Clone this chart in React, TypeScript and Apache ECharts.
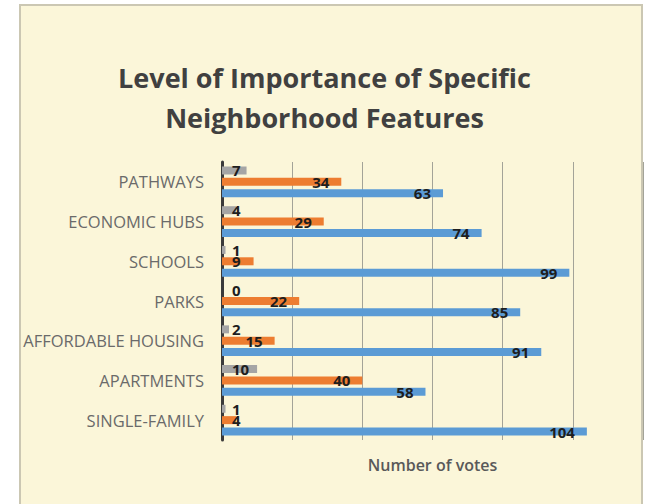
import React, { useEffect, useRef } from "react";
import * as echarts from "echarts";

const categories = [
  "PATHWAYS",
  "ECONOMIC HUBS",
  "SCHOOLS",
  "PARKS",
  "AFFORDABLE HOUSING",
  "APARTMENTS",
  "SINGLE-FAMILY",
];
const grayValues = [7, 4, 1, 0, 2, 10, 1];
const orangeValues = [34, 29, 9, 22, 15, 40, 4];
const blueValues = [63, 74, 99, 85, 91, 58, 104];
const seriesNames = ["Not important", "Somewhat important", "Very important"];
const titleText = "Level of Importance of Specific\nNeighborhood Features";
const axisName = "Number of votes";

const FONT = "'Open Sans', Lato, sans-serif";

function labelled(values: number[]) {
  return values.map((v) => ({
    value: v,
    label:
      v >= 12
        ? { position: "insideRight", distance: 12 }
        : { position: "insideLeft", distance: 10 },
  }));
}

export default function App() {
  const ref = useRef<HTMLDivElement>(null);
  useEffect(() => {
    document.body.style.margin = "0";
    if (!ref.current) return;
    const chart = echarts.init(ref.current, undefined, { renderer: "svg" });
    const labelBase = {
      show: true,
      color: "#1e1e1e",
      fontWeight: "bold",
      fontSize: 15,
      fontFamily: FONT,
    };
    const barCommon = { type: "bar", barWidth: 8, barGap: "42%" };
    chart.setOption({
      animation: false,
      backgroundColor: "transparent",
      title: {
        text: titleText,
        left: "center",
        top: 52,
        textStyle: {
          fontFamily: FONT,
          fontSize: 27,
          fontWeight: "bold",
          color: "#404040",
          lineHeight: 40,
        },
      },
      grid: { left: 222, right: 6, top: 162, bottom: 64 },
      xAxis: {
        type: "value",
        min: 0,
        max: 120,
        interval: 20,
        axisLabel: { show: false },
        axisLine: { show: false },
        axisTick: { show: false },
        splitLine: { lineStyle: { color: "#a3a398", width: 1 } },
        name: axisName,
        nameLocation: "middle",
        nameGap: 17,
        nameTextStyle: {
          fontFamily: FONT,
          fontSize: 16,
          fontWeight: 600,
          color: "#595959",
        },
      },
      yAxis: {
        type: "category",
        inverse: true,
        data: categories,
        axisLine: { show: true, lineStyle: { color: "#3a3a3a", width: 3 } },
        axisTick: { show: false },
        axisLabel: {
          color: "#6a6a6a",
          fontFamily: FONT,
          fontSize: 16.5,
          margin: 18,
        },
      },
      series: [
        {
          ...barCommon,
          name: seriesNames[0],
          data: labelled(grayValues),
          itemStyle: { color: "#a5a5a5" },
          label: labelBase,
        },
        {
          ...barCommon,
          name: seriesNames[1],
          data: labelled(orangeValues),
          itemStyle: { color: "#ed7d31" },
          label: labelBase,
        },
        {
          ...barCommon,
          name: seriesNames[2],
          data: labelled(blueValues),
          itemStyle: { color: "#5b9bd5" },
          label: labelBase,
        },
      ],
    });
    return () => chart.dispose();
  }, []);
  return (
    <div
      style={{
        position: "absolute",
        left: 0,
        top: 0,
        width: 649,
        height: 504,
        background: "#ffffff",
        overflow: "hidden",
      }}
    >
      <div
        style={{
          position: "absolute",
          left: 19,
          top: 4,
          width: 620,
          height: 520,
          background: "#fbf6d9",
          border: "2px solid #cbc7b3",
        }}
      />
      <div
        ref={ref}
        style={{ position: "absolute", left: 0, top: 0, width: 649, height: 504 }}
      />
    </div>
  );
}
